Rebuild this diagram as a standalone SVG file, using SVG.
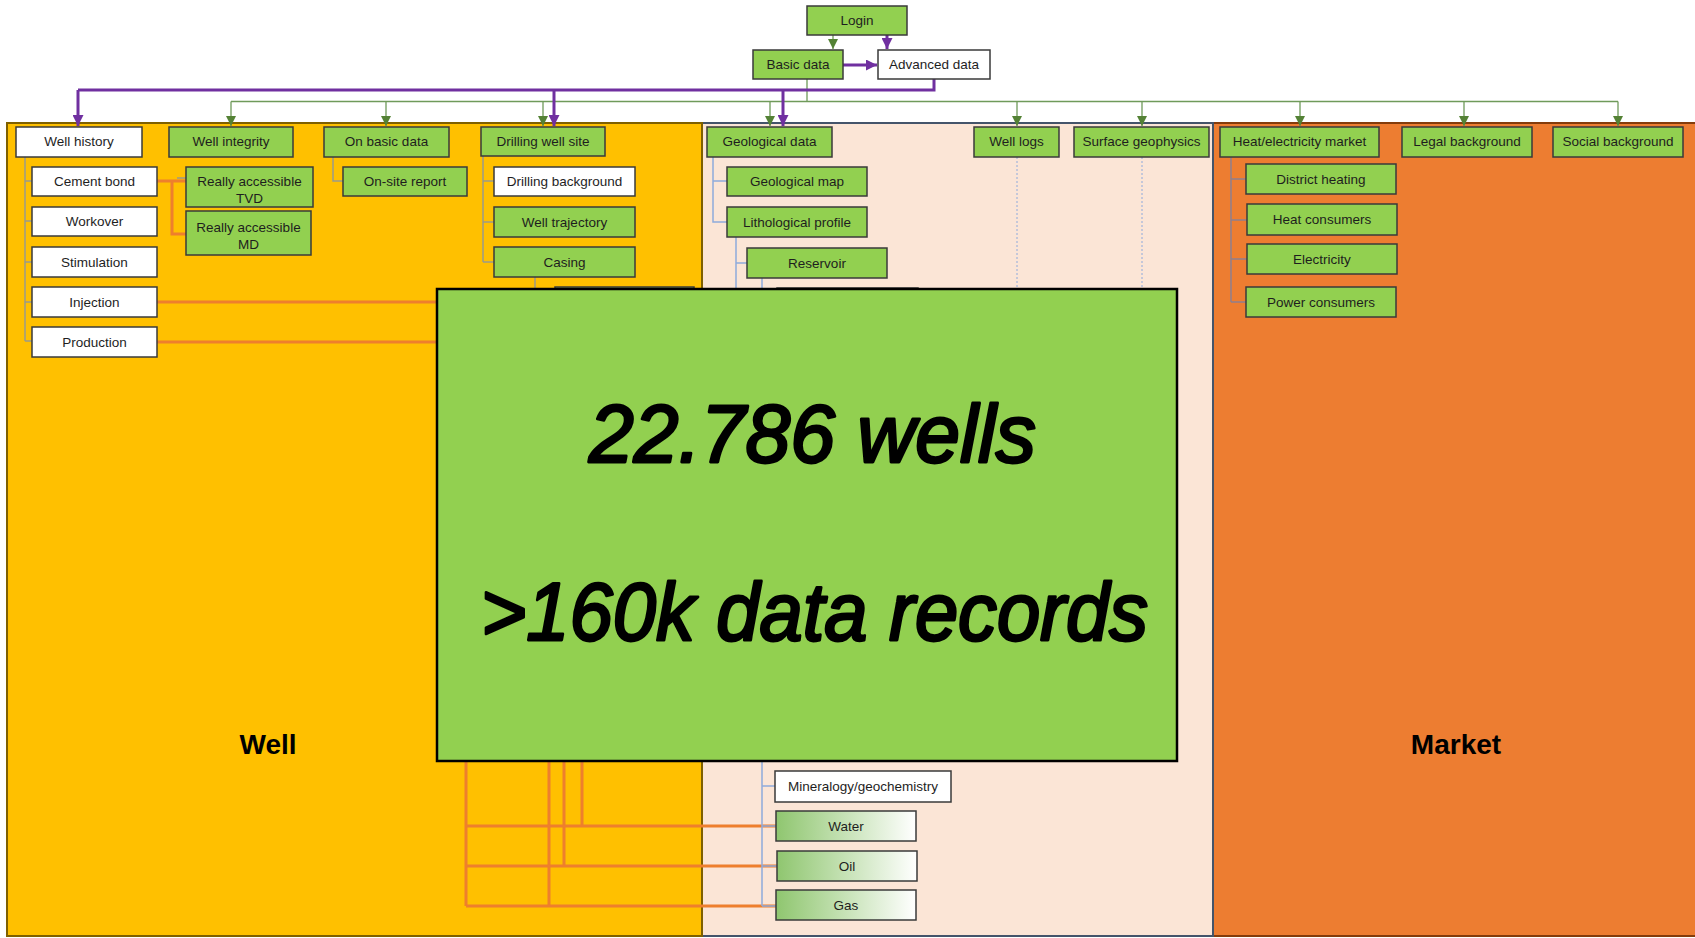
<svg xmlns="http://www.w3.org/2000/svg" width="1695" height="938" viewBox="0 0 1695 938">
  <defs>
    <style>
      .lbl { font-family: "Liberation Sans", Arial, sans-serif; font-size: 13.5px; fill: #1e1e1e; text-anchor: middle; }
      .green { fill: #92D050; stroke: #3a3a3a; stroke-width: 1.5; }
      .white { fill: #ffffff; stroke: #3a3a3a; stroke-width: 1.5; }
      .grad { fill: url(#fadeGreen); stroke: #3a3a3a; stroke-width: 1.5; }
      .cg { fill: none; stroke: #6f9a5a; stroke-width: 1.3; }
      .cp { fill: none; stroke: #7030A0; stroke-width: 3; }
      .co { fill: none; stroke: #EE7F2D; stroke-width: 3; }
      .tg { fill: none; stroke: #9a9a8a; stroke-width: 1.5; }
      .tb { fill: none; stroke: #8FAADC; stroke-width: 1.5; }
      .tm { fill: none; stroke: #8e7f8f; stroke-width: 1.5; }
      .td { fill: none; stroke: #8FAADC; stroke-width: 1; stroke-dasharray: 2 2; }
      .panel-title { font-family: "Liberation Sans", Arial, sans-serif; font-size: 28px; font-weight: bold; fill: #000; text-anchor: middle; }
      .big { font-family: "Liberation Sans", Arial, sans-serif; font-size: 82px; font-style: italic; font-weight: normal; fill: #000; stroke: #000; stroke-width: 2.8; stroke-linejoin: round; text-anchor: middle; }
    </style>
    <linearGradient id="fadeGreen" x1="0" y1="0" x2="1" y2="0">
      <stop offset="0" stop-color="#8FC66F"/>
      <stop offset="1" stop-color="#ffffff"/>
    </linearGradient>
    <marker id="arrG" viewBox="0 0 10 10" refX="10" refY="5" markerWidth="10" markerHeight="10" markerUnits="userSpaceOnUse" orient="auto">
      <path d="M0,0 L10,5 L0,10 z" fill="#548235"/>
    </marker>
    <marker id="arrP" viewBox="0 0 10 10" refX="10" refY="5" markerWidth="11" markerHeight="11" markerUnits="userSpaceOnUse" orient="auto">
      <path d="M0,0 L10,5 L0,10 z" fill="#7030A0"/>
    </marker>
  </defs>

  <rect x="0" y="0" width="1695" height="938" fill="#ffffff"/>

  <!-- category panels -->
  <g id="panel-market">
    <rect x="1213" y="123" width="484" height="813" fill="#ED7D31" stroke="#843C0C" stroke-width="2"/>
    <text class="panel-title" x="1456" y="754">Market</text>
  </g>
  <g id="panel-geology">
    <rect x="702" y="123" width="511" height="813" fill="#FBE5D6" stroke="#44546A" stroke-width="2"/>
  </g>
  <g id="panel-well">
    <rect x="7" y="123" width="695" height="813" fill="#FFC000" stroke="#7F6000" stroke-width="2"/>
    <text class="panel-title" x="268" y="754">Well</text>
  </g>

  <!-- connectors -->
  <g id="connectors">
    <!-- login / access level -->
    <path class="cg" d="M833,35 V49" marker-end="url(#arrG)"/>
    <path class="cp" d="M887,35 V49" marker-end="url(#arrP)"/>
    <path class="cp" d="M843,65 H877" marker-end="url(#arrP)"/>
    <!-- basic data distribution bus -->
    <path class="cg" d="M807,79 V101.5 M231,101.5 H1618"/>
    <path class="cg" d="M231,101.5 V126" marker-end="url(#arrG)"/>
    <path class="cg" d="M386,101.5 V126" marker-end="url(#arrG)"/>
    <path class="cg" d="M543,101.5 V126" marker-end="url(#arrG)"/>
    <path class="cg" d="M770,101.5 V126" marker-end="url(#arrG)"/>
    <path class="cg" d="M1017,101.5 V126" marker-end="url(#arrG)"/>
    <path class="cg" d="M1142,101.5 V126" marker-end="url(#arrG)"/>
    <path class="cg" d="M1300,101.5 V126" marker-end="url(#arrG)"/>
    <path class="cg" d="M1464,101.5 V126" marker-end="url(#arrG)"/>
    <path class="cg" d="M1618,101.5 V126" marker-end="url(#arrG)"/>
    <!-- advanced data distribution bus -->
    <path class="cp" d="M934,79 V90 H78"/>
    <path class="cp" d="M78,90 V126" marker-end="url(#arrP)"/>
    <path class="cp" d="M554,90 V126" marker-end="url(#arrP)"/>
    <path class="cp" d="M783,90 V126" marker-end="url(#arrP)"/>

    <!-- well history tree -->
    <path class="tg" d="M25,157 V341 M25,181 H32 M25,221 H32 M25,262 H32 M25,302 H32 M25,341 H32"/>
    <path class="tg" d="M333,157 V181 H343"/>
    <path class="tg" d="M483,156 V262 M483,181 H494 M483,222 H494 M483,262 H494"/>
    <path class="tg" d="M535,277 V289"/>
    <path class="tg" d="M177,178 H186"/>

    <!-- orange cross links -->
    <path class="co" d="M157,181 H186 M172,181 V234 H186"/>
    <path class="co" d="M157,302 H437 M157,342 H437"/>
    <path class="co" d="M466,761 V906 M549,761 V906 M564,761 V866 M582,761 V826"/>
    <path class="co" d="M466,826 H776 M466,866 H777 M466,906 H776"/>

    <!-- geology tree -->
    <path class="tb" d="M713,157 V222 H727 M713,181 H727"/>
    <path class="tb" d="M736,237 V289 M736,263 H747"/>
    <path class="tb" d="M762,278 V289"/>
    <path class="tb" d="M762,761 V906 M762,786 H775 M762,826 H776 M762,866 H777 M762,906 H776"/>
    <path class="td" d="M1017,157 V289 M1142,157 V289"/>

    <!-- market tree -->
    <path class="tm" d="M1231,157 V302 M1231,179 H1246 M1231,220 H1247 M1231,259 H1247 M1231,302 H1246"/>
  </g>

  <!-- access nodes -->
  <g id="n-login"><rect class="green" x="807" y="6" width="100" height="29"/><text class="lbl" x="857" y="25">Login</text></g>
  <g id="n-basic"><rect class="green" x="753" y="50" width="90" height="29"/><text class="lbl" x="798" y="69">Basic data</text></g>
  <g id="n-advanced"><rect class="white" x="878" y="50" width="112" height="29"/><text class="lbl" x="934" y="69">Advanced data</text></g>

  <!-- well column -->
  <g id="n-well-history"><rect class="white" x="16" y="127" width="126" height="30"/><text class="lbl" x="79" y="146">Well history</text></g>
  <g id="n-cement"><rect class="white" x="32" y="167" width="125" height="29"/><text class="lbl" x="94.5" y="186">Cement bond</text></g>
  <g id="n-workover"><rect class="white" x="32" y="207" width="125" height="29"/><text class="lbl" x="94.5" y="226">Workover</text></g>
  <g id="n-stimulation"><rect class="white" x="32" y="247" width="125" height="30"/><text class="lbl" x="94.5" y="266.5">Stimulation</text></g>
  <g id="n-injection"><rect class="white" x="32" y="287" width="125" height="30"/><text class="lbl" x="94.5" y="306.5">Injection</text></g>
  <g id="n-production"><rect class="white" x="32" y="327" width="125" height="30"/><text class="lbl" x="94.5" y="346.5">Production</text></g>
  <g id="n-tvd"><rect class="green" x="186" y="167" width="127" height="40"/><text class="lbl" x="249.5" y="185.5">Really accessible</text><text class="lbl" x="249.5" y="203">TVD</text></g>
  <g id="n-md"><rect class="green" x="186" y="211" width="125" height="44"/><text class="lbl" x="248.5" y="231.5">Really accessible</text><text class="lbl" x="248.5" y="249">MD</text></g>
  <g id="n-well-integrity"><rect class="green" x="169" y="127" width="124" height="30"/><text class="lbl" x="231" y="146">Well integrity</text></g>
  <g id="n-on-basic"><rect class="green" x="324" y="127" width="125" height="30"/><text class="lbl" x="386.5" y="146">On basic data</text></g>
  <g id="n-onsite"><rect class="green" x="343" y="167" width="124" height="29"/><text class="lbl" x="405" y="186">On-site report</text></g>
  <g id="n-drilling-site"><rect class="green" x="481" y="127" width="124" height="29"/><text class="lbl" x="543" y="146">Drilling well site</text></g>
  <g id="n-drilling-bg"><rect class="white" x="494" y="167" width="141" height="29"/><text class="lbl" x="564.5" y="186">Drilling background</text></g>
  <g id="n-trajectory"><rect class="green" x="494" y="207" width="141" height="30"/><text class="lbl" x="564.5" y="226.5">Well trajectory</text></g>
  <g id="n-casing"><rect class="green" x="494" y="247" width="141" height="30"/><text class="lbl" x="564.5" y="266.5">Casing</text></g>
  <g id="n-casing-sub"><rect class="green" x="555" y="287" width="139" height="30"/></g>

  <!-- geology column -->
  <g id="n-geo-data"><rect class="green" x="707" y="127" width="125" height="30"/><text class="lbl" x="769.5" y="146">Geological data</text></g>
  <g id="n-geo-map"><rect class="green" x="727" y="167" width="140" height="29"/><text class="lbl" x="797" y="186">Geological map</text></g>
  <g id="n-litho"><rect class="green" x="727" y="207" width="140" height="30"/><text class="lbl" x="797" y="226.5">Lithological profile</text></g>
  <g id="n-reservoir"><rect class="green" x="747" y="248" width="140" height="30"/><text class="lbl" x="817" y="267.5">Reservoir</text></g>
  <g id="n-reservoir-sub"><rect class="green" x="777" y="288" width="141" height="30"/></g>
  <g id="n-mineralogy"><rect class="white" x="775" y="771" width="176" height="31"/><text class="lbl" x="863" y="791">Mineralogy/geochemistry</text></g>
  <g id="n-water"><rect class="grad" x="776" y="811" width="140" height="30"/><text class="lbl" x="846" y="830.5">Water</text></g>
  <g id="n-oil"><rect class="grad" x="777" y="851" width="140" height="30"/><text class="lbl" x="847" y="870.5">Oil</text></g>
  <g id="n-gas"><rect class="grad" x="776" y="890" width="140" height="30"/><text class="lbl" x="846" y="909.5">Gas</text></g>
  <g id="n-well-logs"><rect class="green" x="974" y="127" width="85" height="30"/><text class="lbl" x="1016.5" y="146">Well logs</text></g>
  <g id="n-surface-geo"><rect class="green" x="1074" y="127" width="135" height="30"/><text class="lbl" x="1141.5" y="146">Surface geophysics</text></g>

  <!-- market column -->
  <g id="n-heat-market"><rect class="green" x="1220" y="127" width="159" height="30"/><text class="lbl" x="1299.5" y="146">Heat/electricity market</text></g>
  <g id="n-legal"><rect class="green" x="1402" y="127" width="130" height="30"/><text class="lbl" x="1467" y="146">Legal background</text></g>
  <g id="n-social"><rect class="green" x="1553" y="127" width="130" height="30"/><text class="lbl" x="1618" y="146">Social background</text></g>
  <g id="n-district"><rect class="green" x="1246" y="164" width="150" height="30"/><text class="lbl" x="1321" y="183.5">District heating</text></g>
  <g id="n-heat-cons"><rect class="green" x="1247" y="204" width="150" height="31"/><text class="lbl" x="1322" y="224">Heat consumers</text></g>
  <g id="n-electricity"><rect class="green" x="1247" y="244" width="150" height="30"/><text class="lbl" x="1322" y="263.5">Electricity</text></g>
  <g id="n-power-cons"><rect class="green" x="1246" y="287" width="150" height="30"/><text class="lbl" x="1321" y="306.5">Power consumers</text></g>

  <!-- summary banner -->
  <g id="summary">
    <rect x="437" y="289" width="740" height="472" fill="#92D050" stroke="#000000" stroke-width="2.5"/>
    <text class="big" x="812.5" y="462" textLength="447" lengthAdjust="spacingAndGlyphs">22.786 wells</text>
    <text class="big" x="814.5" y="640" textLength="667" lengthAdjust="spacingAndGlyphs">&gt;160k data records</text>
  </g>
</svg>
